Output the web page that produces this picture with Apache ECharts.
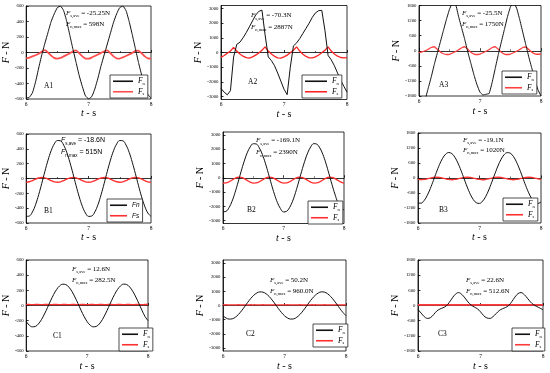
<!DOCTYPE html>
<html><head><meta charset="utf-8">
<script src="https://cdn.jsdelivr.net/npm/echarts@6/dist/echarts.min.js"></script>
<style>html,body{margin:0;padding:0;background:#fff}#c{width:550px;height:373px}</style>
</head><body><div id="c"></div>
<script>
const time = [6,6.05,6.1,6.15,6.2,6.25,6.3,6.35,6.4,6.45,6.5,6.55,6.6,6.65,6.7,6.75,6.8,6.85,6.9,6.95,7,7.05,7.1,7.15,7.2,7.25,7.3,7.35,7.4,7.45,7.5,7.55,7.6,7.65,7.7,7.75,7.8,7.85,7.9,7.95,8];
const xTicks = [6,7,8];
const ticks600 = [-600,-400,-200,0,200,400,600];
const ticks3000 = [-3000,-2000,-1000,0,1000,2000,3000];
const ticks1800 = [-1800,-1200,-600,0,600,1200,1800];

const A1_Fn = [-585,-578,-520,-380,-200,-30,120,260,400,500,580,598,540,400,220,40,-130,-300,-440,-560,-598,-570,-470,-330,-170,-30,110,250,390,500,580,598,540,400,230,50,-130,-290,-430,-540,-590];
const A1_Fs = [-75,-65,-50,-35,-15,10,30,0,-40,-70,-80,-70,-50,-30,-10,15,28,-10,-50,-78,-80,-65,-45,-25,-5,15,28,-10,-50,-75,-78,-62,-45,-25,-5,20,25,-10,-50,-75,-78];
const A2_Fn = [-2450,-2700,-2880,-2600,-300,550,700,1000,1350,1750,2150,2550,2800,2887,1200,-300,-550,-900,-1400,-1950,-2500,-2870,-1000,450,650,950,1300,1650,2000,2400,2700,2850,2870,1500,-200,-500,-900,-1400,-1900,-2300,-2700];
const A2_Fs = [-330,-200,-50,100,350,100,-100,-250,-350,-380,-300,-180,-30,150,380,100,-100,-260,-360,-380,-300,-180,-20,150,380,100,-120,-270,-360,-370,-300,-170,-20,150,380,100,-100,-250,-340,-370,-350];
const A3_Fn = [-2100,-2200,-1950,-1500,-1050,-550,-100,350,800,1250,1650,1900,1850,1350,900,450,-50,-500,-950,-1350,-1650,-1760,-1730,-1700,-1250,-700,-150,350,850,1350,1750,1900,1700,1250,750,250,-250,-700,-1150,-1550,-1800];
const A3_Fs = [-70,-40,0,60,130,160,60,-50,-120,-150,-140,-90,-30,40,120,160,60,-60,-130,-150,-130,-80,-20,50,130,160,60,-60,-130,-150,-130,-80,-20,50,130,150,50,-60,-120,-140,-130];
const B1_Fn = [-511,-506,-451,-353,-219,-65,97,248,375,466,512,508,451,353,219,65,-97,-248,-375,-466,-511,-506,-451,-353,-219,-65,97,248,375,466,512,508,451,353,219,65,-97,-248,-375,-466,-511];
const B1_Fs = [-50,-44,-28,-9,7,14,8,-8,-29,-45,-51,-45,-28,-8,8,15,8,-8,-28,-45,-50,-45,-29,-9,7,14,8,-8,-28,-44,-50,-45,-28,-8,8,14,8,-9,-28,-45,-50];
const B2_Fn = [-2380,-2350,-2090,-1640,-1020,-300,450,1150,1740,2160,2380,2360,2090,1640,1020,300,-450,-1150,-1740,-2160,-2390,-2350,-2090,-1640,-1020,-300,450,1150,1740,2160,2385,2350,2090,1640,1020,300,-450,-1150,-1740,-2100,-2250];
const B2_Fs = [-372,-364,-282,-156,-35,34,26,-56,-182,-303,-372,-364,-282,-156,-35,34,26,-56,-182,-303,-372,-364,-282,-156,-35,34,26,-56,-182,-303,-372,-364,-282,-156,-35,34,26,-56,-182,-303,-372];
const B3_Fn = [-1006,-1006,-900,-697,-421,-100,231,539,789,955,1019,976,830,594,297,-34,-359,-648,-866,-993,-1015,-929,-745,-480,-166,166,480,745,929,1015,993,866,648,359,34,-297,-594,-830,-976,-1019,-955];
const B3_Fs = [-59,-68,-59,-34,-4,21,31,21,-4,-34,-59,-69,-59,-34,-4,21,30,21,-4,-34,-59,-69,-58,-34,-4,21,31,21,-5,-34,-59,-69,-59,-34,-4,20,31,21,-4,-34,-59];
const C1_Fn = [-212,-259,-281,-276,-243,-187,-112,-27,62,144,212,259,281,276,243,187,112,27,-62,-144,-212,-259,-281,-276,-243,-187,-112,-27,62,144,212,259,282,276,243,187,112,27,-62,-144,-200];
const C1_Fs = [13,13,12,13,13,12,13,13,12,13,13,12,13,13,12,13,13,12,13,13,12,13,13,12,13,13,12,13,13,12,13,13,12,13,13,12,13,13,12,13,13];
const C2_Fn = [-720,-880,-955,-938,-826,-635,-381,-92,211,489,720,880,957,938,826,635,381,92,-211,-489,-720,-880,-955,-938,-826,-635,-381,-92,211,489,720,880,960,938,826,635,381,92,-211,-489,-720];
const C2_Fs = [50,51,50,49,50,51,50,49,50,51,50,49,50,51,50,49,50,51,50,49,50,51,50,49,50,51,50,49,50,51,50,49,50,51,50,49,50,51,50,49,50];
const C3_Fn = [-160,-300,-440,-510,-480,-360,-220,-140,-90,-20,120,300,450,510,440,300,140,20,-60,-130,-250,-400,-490,-510,-440,-320,-200,-130,-80,0,150,330,470,510,430,290,140,30,-40,-100,-170];
const C3_Fs = [23,22,23,23,22,23,23,22,23,23,22,23,23,22,23,23,22,23,23,22,23,23,22,23,23,22,23,23,22,23,23,22,23,23,22,23,23,22,23,23,22];

const panelNames = ['A1','A2','A3','B1','B2','B3','C1','C2','C3'];
const sAveText = ['-25.25N','-70.3N','-25.5N','-18.6N','-169.1N','-19.1N','12.6N','50.2N','22.6N'];
const nMaxText = ['598N','2887N','1750N','515N','2390N','1020N','282.5N','960.0N','512.6N'];

const panels = [
  {g:[25,6,126,93],   r:[-600,600],   t:ticks600,  fn:A1_Fn, fs:A1_Fs, ann:[66,7.5,11],  lab:[44,82],  leg:[110,75], lw:20, yGap:10, xGap:8.5, smooth:0.15, rw:1.8, rc:'#ff4d4d'},
  {g:[221,5.5,126,94],r:[-3200,3200], t:ticks3000, fn:A2_Fn, fs:A2_Fs, ann:[251,9.5,11.5],lab:[248,78], leg:[302,75], lw:22, yGap:8,  xGap:8.5, smooth:0, rw:1.3, rc:'#ff2424'},
  {g:[419,5.5,122,90.5],r:[-1800,1800],t:ticks1800,fn:A3_Fn, fs:A3_Fs, ann:[462,7.5,11],  lab:[439,81], leg:[502,71], lw:17, yGap:9,  xGap:10, smooth:0.1, rw:1.3, rc:'#ff4040'},
  {g:[24,134,127,89], r:[-600,600],   t:ticks600,  fn:B1_Fn, fs:B1_Fs, ann:[61,134.5,12], lab:[44,207], leg:[107,199], lw:17, yGap:10, xGap:9, smooth:0.4, rw:1.4, rc:'#ff3030', sans:true},
  {g:[223,132,121,91.5],r:[-3200,3200],t:ticks3000,fn:B2_Fn, fs:B2_Fs, ann:[256,134.5,12],lab:[247,206], leg:[308,201], lw:17, yGap:8, xGap:9.5, smooth:0.4, rw:1.3, rc:'#ff3030'},
  {g:[418,133,123,90],r:[-1800,1800], t:ticks1800, fn:B3_Fn, fs:B3_Fs, ann:[463,134.5,10.5],lab:[439,206], leg:[503,198], lw:17, yGap:8, xGap:9.5, smooth:0.4, rw:1.3, rc:'#ff3030'},
  {g:[24,260,124,91], r:[-600,600],   t:ticks600,  fn:C1_Fn, fs:C1_Fs, ann:[72,263.5,11], lab:[53,332], leg:[119,328], lw:16, yGap:8.5, xGap:10, smooth:0.4, rw:1.3, rc:'#ff3030'},
  {g:[223,260,123,91],r:[-3200,3200], t:ticks3000, fn:C2_Fn, fs:C2_Fs, ann:[270,274.5,11],lab:[246,330], leg:[313,324], lw:17, yGap:9.5, xGap:10, smooth:0.4, rw:1.3, rc:'#ff3030'},
  {g:[418,260,125,91],r:[-1800,1800], t:ticks1800, fn:C3_Fn, fs:C3_Fs, ann:[466,274.5,11],lab:[438,330], leg:[512,328], lw:15, yGap:9.5, xGap:10, smooth:0.4, rw:1.8, rc:'#ff3b3b'}
];

const SERIF = 'Liberation Serif';
const SANS = 'Liberation Sans';
const pair = vals => time.map((t, i) => [t, vals[i]]);

const grid = [], xAxis = [], yAxis = [], series = [], title = [], legend = [];
panels.forEach((p, i) => {
  const fam = p.sans ? SANS : SERIF;
  grid.push({left:p.g[0], top:p.g[1], width:p.g[2], height:p.g[3], show:true, borderColor:'#000', borderWidth:0.8});
  xAxis.push({
    gridIndex:i, type:'value', min:6, max:8, interval:1,
    name:'{i|t}{r| - s}', nameLocation:'middle', nameGap:p.xGap,
    nameTextStyle:{color:'#000', fontFamily:SERIF, fontSize:10, rich:{
      i:{fontFamily:SERIF, fontStyle:'italic', fontSize:10, color:'#000'},
      r:{fontFamily:SERIF, fontSize:10, color:'#000'}}},
    axisLine:{show:true, lineStyle:{color:'#000', width:0.8}},
    axisTick:{show:true, inside:true, length:2.5, lineStyle:{color:'#000', width:0.8}},
    minorTick:{show:true, splitNumber:2, length:1.5, lineStyle:{color:'#000', width:0.6}},
    axisLabel:{color:'#000', fontFamily:SERIF, fontSize:5.5, margin:2.5, customValues:xTicks, formatter:v => String(v)},
    splitLine:{show:false}
  });
  yAxis.push({
    gridIndex:i, type:'value', min:p.r[0], max:p.r[1],
    name:'{i|F}{r| - N}', nameLocation:'middle', nameGap:p.yGap,
    nameTextStyle:{color:'#000', fontFamily:SERIF, fontSize:10, rich:{
      i:{fontFamily:SERIF, fontStyle:'italic', fontSize:10, color:'#000'},
      r:{fontFamily:SERIF, fontSize:10, color:'#000'}}},
    axisLine:{show:true, lineStyle:{color:'#000', width:0.8}},
    axisTick:{show:true, inside:true, length:2.5, customValues:p.t, lineStyle:{color:'#000', width:0.8}},
    axisLabel:{color:'#000', fontFamily:SERIF, fontSize:4.8, margin:2.5, customValues:p.t, formatter:v => String(v)},
    splitLine:{show:false}
  });
  series.push({type:'line', name:'Fn', xAxisIndex:i, yAxisIndex:i, data:pair(p.fn), symbol:'none',
    smooth:p.smooth, clip:true, lineStyle:{color:'#111', width:1}, itemStyle:{color:'#111'}, z:3});
  series.push({type:'line', name:'Fs', xAxisIndex:i, yAxisIndex:i, data:pair(p.fs), symbol:'none',
    smooth:p.smooth, clip:true, lineStyle:{color:p.rc, width:p.rw}, itemStyle:{color:p.rc}, z:2});

  const lh = p.ann[2];
  title.push({
    left:p.ann[0], top:p.ann[1], padding:0,
    text:'{i|F}{sub|s,ave}{t| = ' + sAveText[i] + '}\n{i|F}{sub|n,max}{t| = ' + nMaxText[i] + '}',
    textStyle:{color:'#000', fontFamily:fam, fontSize:7, fontWeight:'normal', lineHeight:lh, rich:{
      i:{fontFamily:fam, fontStyle:'italic', fontSize:7, lineHeight:lh, color:'#000'},
      sub:{fontFamily:fam, fontSize:4.5, lineHeight:5.5, verticalAlign:'bottom', color:'#000'},
      t:{fontFamily:fam, fontSize:7, lineHeight:lh, color:'#000'}}}
  });
  title.push({left:p.lab[0], top:p.lab[1], padding:0, text:panelNames[i],
    textStyle:{color:'#000', fontFamily:SERIF, fontSize:7.5, fontWeight:'normal'}});

  legend.push({
    left:p.leg[0], top:p.leg[1], orient:'vertical',
    data:[{name:'Fn', icon:'rect', itemStyle:{color:'#111'}}, {name:'Fs', icon:'rect', itemStyle:{color:p.rc}}],
    padding:[1.5,3,1.5,3], itemGap:1, itemWidth:p.lw, itemHeight:1.6,
    borderColor:'#222', borderWidth:0.8, backgroundColor:'#fff', selectedMode:false,
    formatter: p.sans ? (n => '{a|' + n + '}') : (n => '{i|F}{sub|' + (n === 'Fn' ? 'n' : 's') + '}'),
    textStyle:{color:'#000', fontFamily:fam, fontSize:7, lineHeight:9.5, rich:{
      a:{fontFamily:SANS, fontStyle:'italic', fontSize:6.5, lineHeight:9.5, color:'#000'},
      i:{fontFamily:SERIF, fontStyle:'italic', fontSize:7.5, lineHeight:9.5, color:'#000'},
      sub:{fontFamily:SERIF, fontSize:4.5, lineHeight:5, verticalAlign:'bottom', color:'#000'}}}
  });
});

const chart = echarts.init(document.getElementById('c'), null, {renderer:'canvas'});
chart.setOption({animation:false, backgroundColor:'#fff', grid, xAxis, yAxis, series, title, legend});
</script></body></html>
